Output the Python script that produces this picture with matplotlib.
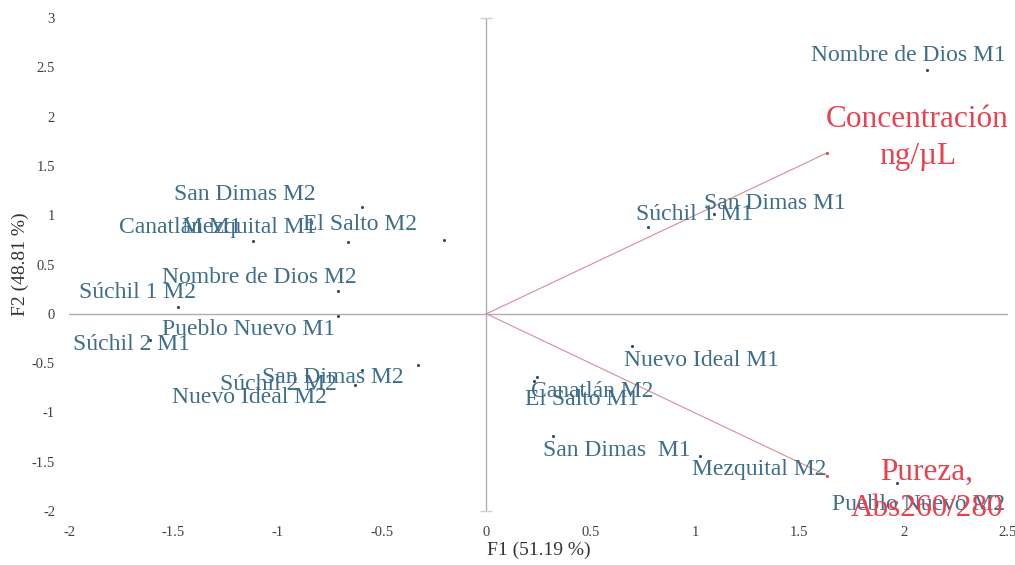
import matplotlib
matplotlib.use("Agg")
import matplotlib.pyplot as plt

# ---------------- data ----------------
obs_names = [
    "Nombre de Dios M1", "Súchil 1 M1", "San Dimas M1", "Nuevo Ideal M1",
    "Canatlán M2", "El Salto M1", "San Dimas  M1", "Mezquital M2",
    "Pueblo Nuevo M2", "San Dimas M2", "Canatlán M1", "Mezquital M1",
    "El Salto M2", "Nombre de Dios M2", "Súchil 1 M2", "Pueblo Nuevo M1",
    "Súchil 2 M1", "San Dimas M2", "Súchil 2 M2", "Nuevo Ideal M2",
]
f1_scores = [2.113, 0.776, 1.092, 0.700, 0.244, 0.230, 0.321, 1.025, 1.969,
             -0.594, -1.116, -0.661, -0.201, -0.709, -1.476, -0.709, -1.610,
             -0.326, -0.594, -0.628]
f2_scores = [2.475, 0.882, 1.014, -0.325, -0.639, -0.680, -1.237, -1.440, -1.714,
             1.085, 0.740, 0.730, 0.750, 0.233, 0.071, -0.020, -0.264,
             -0.517, -0.568, -0.720]

var_names = ["Concentración\nng/µL", "Pureza,\nAbs260/280"]
var_f1 = [1.634, 1.632]
var_f2 = [1.633, -1.640]

x_ticks = [-2, -1.5, -1, -0.5, 0, 0.5, 1, 1.5, 2, 2.5]
x_tick_labels = ["-2", "-1.5", "-1", "-0.5", "0", "0.5", "1", "1.5", "2", "2.5"]
y_ticks = [-2, -1.5, -1, -0.5, 0, 0.5, 1, 1.5, 2, 2.5, 3]
y_tick_labels = ["-2", "-1.5", "-1", "-0.5", "0", "0.5", "1", "1.5", "2", "2.5", "3"]

x_label = "F1 (51.19 %)"
y_label = "F2 (48.81 %)"

# ---------------- layout / style ----------------
# label offsets in pixels (dx right, dy down) from each point
obs_offsets_px = [
    (-19, -14), (46, -12), (61, -10), (69, 15), (55, 15), (48, 19), (63, 15),
    (59, 14), (21, 22), (-118, -12), (-73, -13), (-99, -14), (-84, -15),
    (-79, -13), (-41, -14), (-90, 14), (-19, 5), (-85, 13), (-84, 15), (-106, 13),
]
var_offsets_px = [(90, -15), (100, 15)]

W, H, DPI = 1015, 565, 100
label_color = "#3E6E8A"
point_color = "#2C4A63"
var_color = "#E8414F"
vec_color = "#DB8C95"
axis_color = "#AEAEAE"
tick_color = "#404040"
serif = ["Liberation Serif", "DejaVu Serif"]

fig = plt.figure(figsize=(W / DPI, H / DPI), dpi=DPI)
fig.patch.set_facecolor("white")
left, right, top, bottom = 69, 1008, 18, 511
ax = fig.add_axes([left / W, 1 - bottom / H, (right - left) / W, (bottom - top) / H])
xlim = (x_ticks[0], x_ticks[-1])
ylim = (y_ticks[0], y_ticks[-1])
ax.set_xlim(*xlim)
ax.set_ylim(*ylim)
for s in ax.spines.values():
    s.set_visible(False)

# axis lines through origin
ax.plot(xlim, [0, 0], color=axis_color, lw=1.0, zorder=1)
ax.plot([0, 0], ylim, color=axis_color, lw=1.0, zorder=1)
ax.plot([0, 0], list(ylim), linestyle="none", marker="_", markersize=9,
        color="#D0D0D0", markeredgewidth=1.0, zorder=1, clip_on=False)

ax.set_xticks(x_ticks)
ax.set_xticklabels(x_tick_labels)
ax.set_yticks(y_ticks)
ax.set_yticklabels(y_tick_labels)
ax.tick_params(length=0, labelsize=10.5, labelcolor=tick_color)
ax.tick_params(axis="x", pad=11)
ax.tick_params(axis="y", pad=10)
for lab in ax.get_xticklabels() + ax.get_yticklabels():
    lab.set_family(serif)

ax.set_xlabel(x_label, fontsize=14, family=serif, color="#333333")
ax.set_ylabel(y_label, fontsize=14, family=serif, color="#333333")
ax.xaxis.set_label_coords(0.5, -0.063)
ax.yaxis.set_label_coords(-0.043, 0.5)

# variable vectors
for vx, vy in zip(var_f1, var_f2):
    ax.plot([0, vx], [0, vy], color=vec_color, lw=0.8, zorder=2)
ax.scatter(var_f1, var_f2, s=5, color=var_color, zorder=3, linewidths=0)
for name, vx, vy, (dx, dy) in zip(var_names, var_f1, var_f2, var_offsets_px):
    ax.annotate(name, (vx, vy), xytext=(dx * 0.72, -dy * 0.72),
                textcoords="offset points", ha="center", va="center",
                fontsize=22.5, family=serif, color=var_color, zorder=5,
                linespacing=1.35, annotation_clip=False)

# observations
ax.scatter(f1_scores, f2_scores, s=5, color=point_color, zorder=3, linewidths=0)
for name, px, py, (dx, dy) in zip(obs_names, f1_scores, f2_scores, obs_offsets_px):
    ax.annotate(name, (px, py), xytext=(dx * 0.72, -dy * 0.72),
                textcoords="offset points", ha="center", va="center",
                fontsize=17, family=serif, color=label_color, zorder=4,
                annotation_clip=False)

fig.savefig("out.png", dpi=DPI)
